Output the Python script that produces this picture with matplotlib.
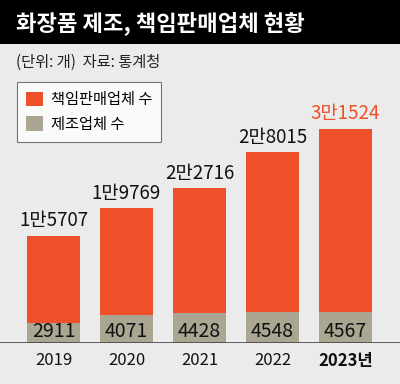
import matplotlib
matplotlib.use("Agg")
import matplotlib.pyplot as plt
from matplotlib.patches import Patch
import numpy as np

plt.rcParams["font.family"] = ["Noto Sans CJK KR", "DejaVu Sans"]

years = ["2019", "2020", "2021", "2022", "2023년"]
sellers = [15707, 19769, 22716, 28015, 31524]
makers = [2911, 4071, 4428, 4548, 4567]
seller_labels = ["1만5707", "1만9769", "2만2716", "2만8015", "3만1524"]

RED = "#ee5029"
KHAKI = "#aaa692"
BG = "#ebebeb"

W, H = 400, 384
fig = plt.figure(figsize=(W / 100, H / 100), dpi=100, facecolor=BG)

# title band
band = fig.add_axes([0, 1 - 44 / H, 1, 44 / H])
band.set_facecolor("black")
band.set_xticks([])
band.set_yticks([])
for s in band.spines.values():
    s.set_visible(False)
fig.text(16 / W, 1 - 23 / H, "화장품 제조, 책임판매업체 현황", color="white",
         fontsize=16, fontweight="bold", va="center", ha="left")
fig.text(16 / W, 1 - 62 / H, "(단위: 개)  자료: 통계청", color="#222222",
         fontsize=11, va="center", ha="left")

# chart axes: baseline at y=342.7px, 6.79 px per 1000
base = 342.7
top = 90
ax = fig.add_axes([0, 1 - base / H, 1, (base - top) / H])
ax.set_facecolor("none")
ax.set_ylim(0, (base - top) / 6.79 * 1000)
ax.set_xlim(-53.5 / 73, (400 - 53.5) / 73)
x = np.arange(len(years))
ax.bar(x, sellers, width=0.73, color=RED)
ax.bar(x, makers, width=0.73, color=KHAKI)

for i, (v, lab) in enumerate(zip(sellers, seller_labels)):
    ax.text(x[i], v + 700, lab, ha="center", va="bottom", fontsize=13.5,
            color=RED if i == len(years) - 1 else "#111111")
for i, m in enumerate(makers):
    ax.text(x[i], 1650, f"{m}", ha="center", va="center", fontsize=14,
            color="#111111")

for s in ax.spines.values():
    s.set_visible(False)
ax.axhline(0, color="#444444", lw=1.2)
ax.set_yticks([])
ax.set_xticks(x)
ax.set_xticklabels(years, fontsize=12, color="#111111")
ax.tick_params(axis="x", length=0, pad=7)
ax.get_xticklabels()[-1].set_fontweight("bold")

handles = [Patch(facecolor=RED, edgecolor="none", label="책임판매업체 수"),
           Patch(facecolor=KHAKI, edgecolor="none", label="제조업체 수")]
leg = fig.legend(handles=handles, loc="upper left",
                 bbox_to_anchor=(17 / W, 1 - 82 / H), fontsize=11,
                 frameon=True, fancybox=False, handlelength=1.1,
                 handleheight=1.1, handletextpad=0.5, labelspacing=0.5,
                 borderpad=0.6, borderaxespad=0)
leg.get_frame().set_facecolor("white")
leg.get_frame().set_edgecolor("#555555")
leg.get_frame().set_linewidth(0.8)

fig.savefig("out.png", dpi=100, facecolor=BG)
